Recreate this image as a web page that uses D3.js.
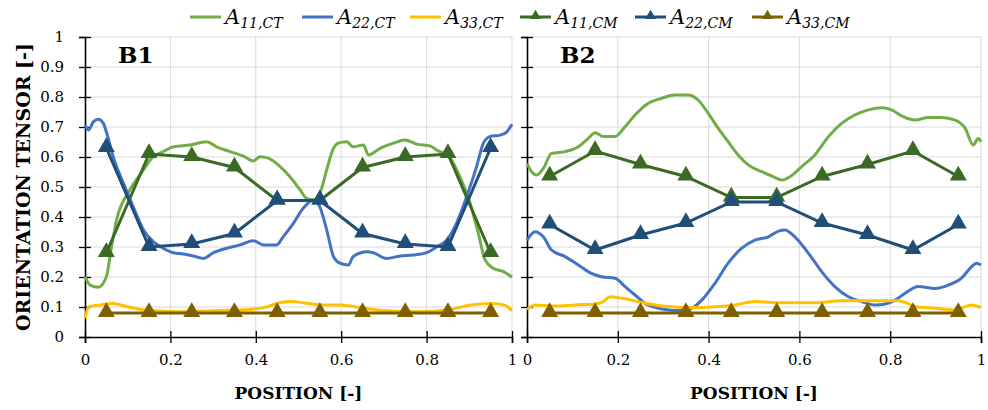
<!DOCTYPE html>
<html>
<head>
<meta charset="utf-8">
<script src="https://cdn.jsdelivr.net/npm/d3@7"></script>
<style>
  html, body { margin: 0; padding: 0; background: #fff; }
  svg { display: block; }
</style>
</head>
<body>
<svg id="chart" width="988" height="410"></svg>
<script>
// ---- data -------------------------------------------------------------
// Tick values
const xTicks = [0, 0.2, 0.4, 0.6, 0.8, 1];
const yTicks = [0, 0.1, 0.2, 0.3, 0.4, 0.5, 0.6, 0.7, 0.8, 0.9, 1];

// CM model sampling positions
const cmPos = [0.05, 0.15, 0.25, 0.35, 0.45, 0.55, 0.65, 0.75, 0.85, 0.95];

// B1 – CM model
const b1A11cm = [0.28, 0.61, 0.60, 0.565, 0.455, 0.455, 0.565, 0.60, 0.61, 0.28];
const b1A22cm = [0.63, 0.30, 0.31, 0.345, 0.455, 0.455, 0.345, 0.31, 0.30, 0.63];
const b1A33cm = [0.08, 0.08, 0.08, 0.08, 0.08, 0.08, 0.08, 0.08, 0.08, 0.08];

// B2 – CM model
const b2A11cm = [0.535, 0.62, 0.575, 0.535, 0.465, 0.465, 0.535, 0.575, 0.62, 0.535];
const b2A22cm = [0.375, 0.29, 0.34, 0.38, 0.45, 0.45, 0.38, 0.34, 0.29, 0.375];
const b2A33cm = [0.08, 0.08, 0.08, 0.08, 0.08, 0.08, 0.08, 0.08, 0.08, 0.08];

// B1 – CT measurement [position, value]
const b1A11ct = [[0,0.201],[0.012,0.173],[0.031,0.166],[0.05,0.20],[0.062,0.30],[0.074,0.39],[0.105,0.49],
  [0.137,0.557],[0.156,0.596],[0.183,0.618],[0.207,0.634],[0.246,0.64],[0.285,0.651],[0.308,0.634],
  [0.34,0.618],[0.371,0.603],[0.394,0.587],[0.41,0.601],[0.429,0.596],[0.457,0.568],[0.48,0.534],
  [0.504,0.49],[0.519,0.462],[0.535,0.457],[0.55,0.479],[0.566,0.557],[0.582,0.629],[0.593,0.646],
  [0.613,0.651],[0.628,0.634],[0.652,0.64],[0.664,0.607],[0.691,0.629],[0.722,0.646],[0.749,0.657],
  [0.777,0.643],[0.808,0.637],[0.824,0.623],[0.855,0.596],[0.878,0.534],[0.902,0.446],[0.921,0.346],
  [0.937,0.257],[0.956,0.229],[0.98,0.218],[1,0.199]];
const b1A22ct = [[0,0.707],[0.008,0.69],[0.02,0.718],[0.031,0.726],[0.043,0.712],[0.051,0.679],[0.066,0.601],
  [0.09,0.512],[0.113,0.434],[0.137,0.357],[0.16,0.318],[0.183,0.296],[0.207,0.281],[0.23,0.277],
  [0.254,0.27],[0.277,0.262],[0.301,0.281],[0.332,0.296],[0.363,0.307],[0.394,0.321],[0.418,0.307],
  [0.449,0.307],[0.464,0.334],[0.488,0.379],[0.511,0.429],[0.535,0.457],[0.55,0.434],[0.566,0.357],
  [0.582,0.268],[0.597,0.246],[0.617,0.24],[0.628,0.268],[0.66,0.284],[0.675,0.281],[0.706,0.262],
  [0.738,0.27],[0.769,0.273],[0.8,0.281],[0.824,0.301],[0.847,0.323],[0.87,0.379],[0.894,0.468],
  [0.917,0.568],[0.933,0.646],[0.948,0.668],[0.972,0.673],[0.988,0.684],[1,0.709]];
const b1A33ct = [[0,0.062],[0.009,0.101],[0.037,0.107],[0.064,0.112],[0.099,0.101],[0.154,0.088],
  [0.232,0.084],[0.31,0.088],[0.388,0.092],[0.427,0.101],[0.458,0.115],[0.482,0.118],[0.521,0.112],
  [0.56,0.107],[0.599,0.107],[0.646,0.098],[0.70,0.088],[0.778,0.084],[0.856,0.092],[0.903,0.107],
  [0.95,0.112],[0.981,0.107],[1,0.088]];

// B2 – CT measurement [position, value]
const b2A11ct = [[0,0.579],[0.01,0.551],[0.021,0.54],[0.036,0.562],[0.054,0.612],[0.084,0.618],[0.113,0.634],
  [0.135,0.662],[0.15,0.681],[0.168,0.668],[0.194,0.668],[0.216,0.701],[0.238,0.74],[0.267,0.779],
  [0.297,0.796],[0.326,0.807],[0.355,0.807],[0.377,0.79],[0.399,0.746],[0.421,0.696],[0.443,0.651],
  [0.465,0.607],[0.488,0.573],[0.517,0.551],[0.543,0.534],[0.561,0.523],[0.579,0.534],[0.605,0.568],
  [0.634,0.607],[0.664,0.668],[0.693,0.712],[0.722,0.74],[0.752,0.757],[0.781,0.764],[0.803,0.757],
  [0.825,0.737],[0.855,0.723],[0.884,0.732],[0.913,0.732],[0.943,0.723],[0.965,0.696],[0.983,0.64],
  [0.994,0.662],[1,0.651]];
const b2A22ct = [[0,0.323],[0.018,0.351],[0.036,0.334],[0.054,0.29],[0.084,0.268],[0.113,0.24],[0.142,0.212],
  [0.164,0.201],[0.194,0.196],[0.216,0.168],[0.238,0.14],[0.26,0.112],[0.282,0.099],[0.311,0.09],
  [0.341,0.088],[0.363,0.096],[0.385,0.123],[0.414,0.179],[0.443,0.246],[0.473,0.296],[0.502,0.323],
  [0.532,0.334],[0.554,0.353],[0.568,0.357],[0.59,0.334],[0.62,0.279],[0.649,0.218],[0.678,0.168],
  [0.708,0.134],[0.737,0.118],[0.767,0.107],[0.789,0.11],[0.811,0.123],[0.833,0.146],[0.862,0.168],
  [0.899,0.162],[0.928,0.173],[0.957,0.196],[0.979,0.234],[0.99,0.246],[1,0.24]];
const b2A33ct = [[0,0.092],[0.018,0.107],[0.062,0.103],[0.106,0.107],[0.15,0.11],[0.168,0.118],[0.183,0.134],
  [0.209,0.129],[0.245,0.118],[0.282,0.107],[0.319,0.101],[0.363,0.098],[0.414,0.101],[0.458,0.107],
  [0.502,0.118],[0.561,0.114],[0.634,0.114],[0.693,0.121],[0.752,0.121],[0.818,0.121],[0.836,0.114],
  [0.855,0.101],[0.899,0.096],[0.943,0.09],[0.979,0.107],[1,0.098]];

// Legend entries
const legendKeys = ["11,CT", "22,CT", "33,CT", "11,CM", "22,CM", "33,CM"];

// ---- styling ----------------------------------------------------------
const colors = {
  a11ct: "#70AD47", a22ct: "#4472C4", a33ct: "#FFC000",
  a11cm: "#3A6A24", a22cm: "#1F4E79", a33cm: "#7F6000"
};
const serif = "'DejaVu Serif', 'Liberation Serif', serif";

const svg = d3.select("#chart");
const y = d3.scaleLinear().domain([0, 1]).range([337, 37]);

const panels = [
  { label: "B1", range: [85, 512], showY: true,
    ct: [[b1A11ct, colors.a11ct], [b1A22ct, colors.a22ct], [b1A33ct, colors.a33ct]],
    cm: [[b1A11cm, colors.a11cm], [b1A22cm, colors.a22cm], [b1A33cm, colors.a33cm]] },
  { label: "B2", range: [527, 981], showY: false,
    ct: [[b2A11ct, colors.a11ct], [b2A22ct, colors.a22ct], [b2A33ct, colors.a33ct]],
    cm: [[b2A11cm, colors.a11cm], [b2A22cm, colors.a22cm], [b2A33cm, colors.a33cm]] }
];

const fmt = d => (d === 0 ? "0" : d === 1 ? "1" : d3.format(".1f")(d));
const tri = d3.symbol().type(d3.symbolTriangle);

panels.forEach(p => {
  const x = d3.scaleLinear().domain([0, 1]).range(p.range);
  const g = svg.append("g");

  // grid
  g.append("g").selectAll("line.h").data(yTicks.slice(1)).join("line")
    .attr("x1", p.range[0]).attr("x2", p.range[1])
    .attr("y1", d => y(d)).attr("y2", d => y(d))
    .attr("stroke", "#D9D9D9").attr("stroke-width", 1);
  g.append("g").selectAll("line.v").data(xTicks.slice(1)).join("line")
    .attr("x1", d => x(d)).attr("x2", d => x(d))
    .attr("y1", y(0)).attr("y2", y(1))
    .attr("stroke", "#D9D9D9").attr("stroke-width", 1);

  // axes
  const xa = g.append("g").attr("transform", `translate(0,${y(0)})`)
    .call(d3.axisBottom(x).tickValues(xTicks).tickFormat(fmt).tickSize(6).tickPadding(11));
  xa.selectAll(".tick line").attr("y1", -6).attr("y2", 6).attr("stroke-width", 1.3);
  const ya = g.append("g").attr("transform", `translate(${p.range[0]},0)`)
    .call(d3.axisLeft(y).tickValues(yTicks).tickFormat(p.showY ? fmt : () => "").tickSize(6).tickPadding(15));
  ya.selectAll(".tick line").attr("x1", -6).attr("x2", 6).attr("stroke-width", 1.3);
  [xa, ya].forEach(a => {
    a.select(".domain").attr("stroke", "#000").attr("stroke-width", 1.6);
    a.selectAll("text").attr("font-family", serif).attr("font-size", 15).attr("fill", "#000");
  });

  // CT curves
  const ctLine = d3.line().x(d => x(d[0])).y(d => y(d[1])).curve(d3.curveMonotoneX);
  p.ct.forEach(([data, c]) => {
    g.append("path").datum(data).attr("d", ctLine)
      .attr("fill", "none").attr("stroke", c).attr("stroke-width", 3)
      .attr("stroke-linejoin", "round");
  });

  // CM model lines with triangle markers
  const cmLine = d3.line().x((d, i) => x(cmPos[i])).y(d => y(d));
  p.cm.forEach(([vals, c]) => {
    g.append("path").datum(vals).attr("d", cmLine)
      .attr("fill", "none").attr("stroke", c).attr("stroke-width", 3);
    g.append("g").selectAll("path").data(vals).join("path")
      .attr("d", tri.size(125)())
      .attr("transform", (d, i) => `translate(${x(cmPos[i])},${y(d) - 1})`)
      .attr("fill", c);
  });

  // panel label
  g.append("text").attr("x", x(0) + 33).attr("y", y(0.915))
    .attr("font-family", serif).attr("font-weight", "bold").attr("font-size", 23)
    .text(p.label);

  // x-axis title
  g.append("text").attr("x", (p.range[0] + p.range[1]) / 2).attr("y", 399)
    .attr("text-anchor", "middle").attr("font-family", serif)
    .attr("font-weight", "bold").attr("font-size", 17).text("POSITION [-]");
});

// y-axis title
svg.append("text")
  .attr("transform", `translate(30,${y(0.5)}) rotate(-90)`)
  .attr("text-anchor", "middle").attr("font-family", serif)
  .attr("font-weight", "bold").attr("font-size", 19)
  .text("ORIENTATION TENSOR [-]");

// legend
const legendColors = [colors.a11ct, colors.a22ct, colors.a33ct, colors.a11cm, colors.a22cm, colors.a33cm];
const legendX = [190, 302, 410, 520, 635, 752];
const lg = svg.append("g");
legendKeys.forEach((k, i) => {
  const gx = legendX[i];
  lg.append("line").attr("x1", gx).attr("x2", gx + 31).attr("y1", 17).attr("y2", 17)
    .attr("stroke", legendColors[i]).attr("stroke-width", 3);
  if (i >= 3) {
    lg.append("path").attr("d", tri.size(50)())
      .attr("transform", `translate(${gx + 15.5},16)`).attr("fill", legendColors[i]);
  }
  const t = lg.append("text").attr("x", gx + 35).attr("y", 24)
    .attr("font-family", serif).attr("font-style", "italic").attr("fill", "#000");
  t.append("tspan").attr("font-size", 21).text("A");
  t.append("tspan").attr("font-size", 14).attr("dy", 4).text(k);
});
</script>
</body>
</html>
